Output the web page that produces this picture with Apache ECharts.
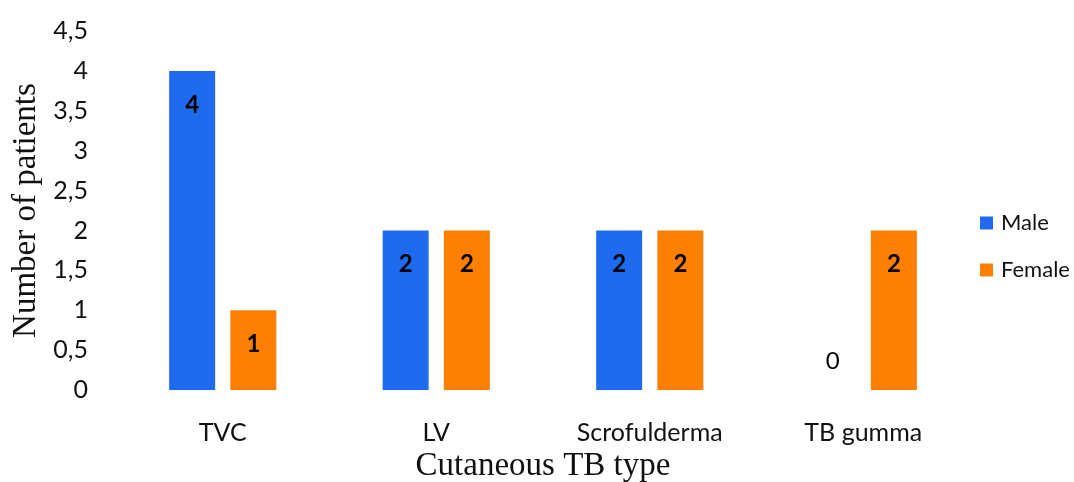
<!DOCTYPE html>
<html>
<head>
<meta charset="utf-8">
<script src="https://cdn.jsdelivr.net/npm/echarts@6/dist/echarts.min.js"></script>
<style>
  html, body { margin: 0; padding: 0; background: #fff; }
  #chart { width: 1074px; height: 482px; }
</style>
</head>
<body>
<div id="chart"></div>
<script>
// Cutaneous TB types by patient sex
const categories = ['TVC', 'LV', 'Scrofulderma', 'TB gumma'];
const maleCounts = [4, 2, 2, 0];
const femaleCounts = [1, 2, 2, 2];
const yTicks = { min: 0, max: 4.5, interval: 0.5 };

const MALE_COLOR = '#1F6BEF';
const FEMALE_COLOR = '#FF7F00';
const sans = 'Lato, "Open Sans", sans-serif';
const serif = '"Liberation Serif", "DejaVu Serif", serif';

// Value labels sit inside the top of each bar; an empty bar shows its 0 just above the axis.
function toItems(values) {
  return values.map(v => v === 0
    ? { value: v, label: { position: 'insideBottom', distance: 17, fontWeight: 'normal' } }
    : { value: v });
}

const chart = echarts.init(document.getElementById('chart'), null, { renderer: 'canvas' });
chart.setOption({
  backgroundColor: '#fff',
  animation: false,
  grid: { left: 116, right: 104, top: 31, bottom: 92, containLabel: false, outerBoundsMode: 'none' },
  legend: {
    orient: 'vertical',
    left: 975,
    top: 207,
    itemWidth: 13,
    itemHeight: 13,
    itemGap: 25,
    itemStyle: { borderWidth: 0 },
    icon: 'rect',
    textStyle: { fontFamily: sans, fontSize: 22, color: '#111', padding: [0, 0, 0, 3] },
    data: ['Male', 'Female']
  },
  xAxis: {
    type: 'category',
    data: categories,
    axisLine: { show: false },
    axisTick: { show: false },
    axisLabel: { fontFamily: sans, fontSize: 25, color: '#111', margin: 30 },
    name: 'Cutaneous TB type',
    nameLocation: 'middle',
    nameGap: 58,
    nameTextStyle: { fontFamily: serif, fontSize: 33, color: '#111' }
  },
  yAxis: {
    type: 'value',
    min: yTicks.min,
    max: yTicks.max,
    interval: yTicks.interval,
    axisLine: { show: false },
    axisTick: { show: false },
    splitLine: { show: false },
    axisLabel: {
      fontFamily: sans, fontSize: 25, color: '#111', margin: 28,
      formatter: v => String(v).replace('.', ',')
    },
    name: 'Number of patients',
    nameLocation: 'middle',
    nameGap: 70,
    nameTextStyle: { fontFamily: serif, fontSize: 33, color: '#111' }
  },
  series: [
    {
      name: 'Male',
      type: 'bar',
      data: toItems(maleCounts),
      barWidth: 46,
      barGap: '33%',
      itemStyle: { color: MALE_COLOR },
      label: {
        show: true, position: 'insideTop', distance: 22,
        fontFamily: sans, fontSize: 24, fontWeight: 'bold', color: '#000'
      }
    },
    {
      name: 'Female',
      type: 'bar',
      data: toItems(femaleCounts),
      barWidth: 46,
      itemStyle: { color: FEMALE_COLOR },
      label: {
        show: true, position: 'insideTop', distance: 22,
        fontFamily: sans, fontSize: 24, fontWeight: 'bold', color: '#000'
      }
    }
  ]
});
</script>
</body>
</html>
